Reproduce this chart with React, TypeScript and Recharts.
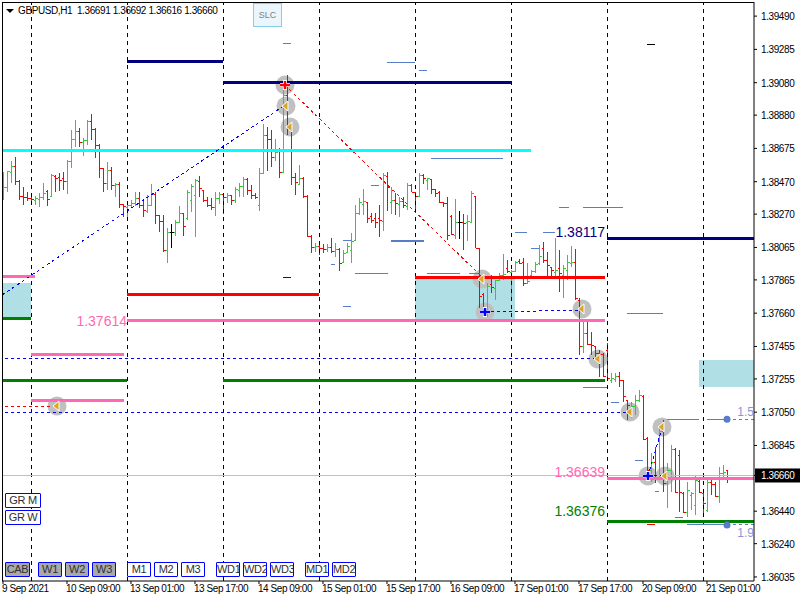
import React from "react";
import {
  ComposedChart,
  Bar,
  XAxis,
  YAxis,
  ReferenceLine,
  ReferenceArea,
  ReferenceDot,
} from "recharts";

// all prices in points (1/100000), bars run from 9 Sep 2021 17:00, one per hour
const highs = [
  138530, 138536, 138597, 138622, 138480, 138437, 138406, 138382, 138382, 138400, 138462, 138419, 138517, 138511, 138523, 138530,
  138603, 138788, 138850, 138801, 138739, 138850, 138887, 138801, 138702, 138554, 138591, 138560, 138462, 138468, 138332, 138338,
  138357, 138406, 138406, 138357, 138388, 138456, 138406, 138265, 138265, 138185, 138209, 138234, 138320, 138277, 138419, 138456,
  138486, 138505, 138419, 138376, 138370, 138406, 138406, 138400, 138400, 138388, 138437, 138462, 138499, 138493, 138449, 138400,
  138554, 138825, 138807, 138788, 138733, 138678, 139035, 139127, 138801, 138523, 138573, 138499, 138388, 138141, 138092, 138105,
  138086, 138086, 138123, 138092, 138062, 138049, 138092, 138154, 138326, 138370, 138425, 138345, 138277, 138277, 138326, 138523,
  138530, 138437, 138400, 138376, 138376, 138462, 138456, 138406, 138523, 138517, 138493, 138486, 138425, 138413, 138345, 138376,
  138265, 138363, 138289, 138271, 138265, 138413, 138382, 138062, 137784, 137846, 137895, 137864, 137907, 138025, 137987, 137926,
  137981, 137993, 138000, 137969, 137926, 137975, 138080, 138098, 138037, 137944, 138123, 138049, 137957, 138019, 138074, 138056,
  137753, 137618, 137618, 137544, 137458, 137433, 137415, 137477, 137292, 137292, 137298, 137248, 137125, 137113, 137156, 137187,
  137156, 136897, 136799, 136836, 136953, 137002, 136737, 136849, 136830, 136817, 136559, 136620, 136559, 136663, 136632, 136553,
  136645, 136632, 136620, 136712, 136725, 136692,
];
const lows = [
  138357, 138406, 138462, 138449, 138357, 138326, 138351, 138338, 138326, 138314, 138357, 138320, 138376, 138406, 138413, 138419,
  138394, 138554, 138684, 138684, 138628, 138696, 138727, 138616, 138493, 138406, 138419, 138419, 138376, 138308, 138252, 138234,
  138314, 138320, 138308, 138252, 138277, 138326, 138209, 138160, 138037, 137969, 138062, 138135, 138216, 138135, 138234, 138283,
  138129, 138376, 138345, 138314, 138295, 138259, 138332, 138271, 138338, 138326, 138338, 138376, 138376, 138388, 138363, 138363,
  138289, 138523, 138536, 138560, 138597, 138493, 138523, 138758, 138449, 138388, 138449, 138370, 138129, 138031, 138037, 138019,
  138031, 138037, 138031, 138006, 137920, 137969, 138037, 137969, 138111, 138265, 138265, 138216, 138216, 138185, 138129, 138166,
  138289, 138271, 138265, 138252, 138308, 138295, 138406, 138283, 138376, 138456, 138419, 138394, 138376, 138338, 138314, 138111,
  138141, 138117, 138117, 138049, 138105, 138222, 138062, 137692, 137692, 137637, 137784, 137741, 137864, 137864, 137907, 137735,
  137914, 137963, 137827, 137846, 137895, 137907, 137957, 137969, 137877, 137877, 137883, 137790, 137753, 137864, 137944, 137741,
  137402, 137415, 137464, 137402, 137371, 137267, 137267, 137261, 137230, 137236, 137205, 137113, 137002, 137014, 137033, 137113,
  136879, 136645, 136620, 136614, 136651, 136559, 136460, 136559, 136553, 136435, 136429, 136404, 136447, 136417, 136553, 136417,
  136435, 136540, 136528, 136491, 136651, 136616,
];
const opens = [
  138388, 138437, 138530, 138566, 138474, 138382, 138376, 138370, 138357, 138363, 138376, 138413, 138382, 138505, 138499, 138493,
  138474, 138597, 138733, 138782, 138714, 138727, 138844, 138794, 138696, 138554, 138462, 138542, 138449, 138456, 138332, 138314,
  138326, 138338, 138370, 138326, 138289, 138326, 138394, 138265, 138228, 138049, 138160, 138160, 138222, 138277, 138246, 138357,
  138388, 138474, 138419, 138357, 138326, 138314, 138370, 138394, 138376, 138388, 138357, 138419, 138443, 138486, 138419, 138388,
  138326, 138523, 138758, 138733, 138622, 138665, 138530, 139004, 138801, 138499, 138456, 138493, 138382, 138135, 138068, 138074,
  138062, 138056, 138068, 138043, 138056, 137975, 138037, 138049, 138111, 138277, 138332, 138345, 138259, 138246, 138246, 138228,
  138505, 138345, 138357, 138332, 138351, 138320, 138449, 138406, 138382, 138511, 138480, 138486, 138425, 138406, 138345, 138338,
  138259, 138141, 138222, 138222, 138222, 138222, 138382, 138062, 137778, 137692, 137840, 137815, 137864, 137895, 137938, 137914,
  137920, 137981, 137975, 137846, 137895, 137920, 137969, 138062, 137987, 137944, 137914, 137938, 137895, 137926, 137969, 137975,
  137741, 137458, 137538, 137470, 137458, 137415, 137408, 137433, 137248, 137255, 137273, 137248, 137125, 137063, 137088, 137125,
  137150, 136891, 136694, 136743, 136663, 136934, 136614, 136694, 136824, 136787, 136553, 136435, 136540, 136478, 136626, 136553,
  136447, 136620, 136608, 136534, 136676, 136691,
];
const closes = [
  138437, 138536, 138566, 138474, 138382, 138376, 138370, 138363, 138370, 138376, 138400, 138363, 138511, 138493, 138480, 138474,
  138597, 138733, 138782, 138714, 138727, 138844, 138794, 138696, 138554, 138462, 138542, 138449, 138456, 138332, 138320, 138326,
  138338, 138370, 138326, 138295, 138326, 138394, 138265, 138228, 138049, 138160, 138160, 138222, 138277, 138197, 138406, 138443,
  138480, 138431, 138357, 138326, 138314, 138370, 138394, 138376, 138388, 138357, 138425, 138443, 138486, 138419, 138388, 138376,
  138523, 138758, 138733, 138622, 138653, 138530, 139004, 138807, 138499, 138468, 138493, 138382, 138135, 138068, 138074, 138062,
  138056, 138068, 138043, 138056, 137969, 138031, 138074, 138105, 138277, 138345, 138351, 138246, 138234, 138222, 138234, 138511,
  138437, 138357, 138338, 138351, 138326, 138449, 138406, 138382, 138511, 138493, 138493, 138425, 138400, 138345, 138338, 138141,
  138148, 138222, 138222, 138216, 138228, 138400, 138062, 137766, 137698, 137827, 137821, 137864, 137895, 137901, 137920, 137920,
  137975, 137969, 137846, 137858, 137920, 137963, 138012, 137987, 137957, 137926, 137926, 137907, 137938, 137975, 137975, 137753,
  137458, 137538, 137470, 137464, 137415, 137408, 137273, 137261, 137261, 137273, 137248, 137150, 137094, 137088, 137125, 137156,
  136885, 136694, 136743, 136663, 136934, 136614, 136694, 136824, 136559, 136559, 136435, 136571, 136553, 136632, 136559, 136491,
  136620, 136608, 136534, 136676, 136682, 136660,
];

const priceTicks = [
  1.3949, 1.39285, 1.3908, 1.3888, 1.38675, 1.3847, 1.3827, 1.38065, 1.37865, 1.3766, 1.37455, 1.37255, 1.3705, 1.36845, 1.3666, 1.3644, 1.3624, 1.36035,
];
const lastPrice = 1.3666;
const timeLabels = [
  "9 Sep 2021", "10 Sep 09:00", "13 Sep 01:00", "13 Sep 17:00", "14 Sep 09:00", "15 Sep 01:00",
  "15 Sep 17:00", "16 Sep 09:00", "17 Sep 01:00", "17 Sep 17:00", "20 Sep 09:00", "21 Sep 01:00",
];
const timeTicks = [0, 16, 32, 48, 64, 80, 96, 112, 128, 144, 160, 176];
const dayStarts = [7, 31, 55, 79, 103, 127, 151, 175];

// [first bar, last bar, price]
const navyLevels = [[31, 55, 1.39213], [55, 127, 1.39078], [151, 188, 1.38117]];
const cyanLevels = [[-1, 132, 1.38665]];
const redLevels = [[31, 79, 1.37772], [103, 150.5, 1.37877]];
const pinkLevels = [[-1, 8, 1.37883], [7, 30.25, 1.37408], [7, 30.25, 1.37125], [31, 150.5, 1.37614], [151, 188, 1.36639]];
const greenLevels = [[-1, 7, 1.3763], [-1, 31, 1.37248], [55, 150.5, 1.37248], [151, 188, 1.36376]];
const thinLevels = [
  [70, 72, 1.39324], [96, 103, 1.39207], [104, 106, 1.39158], [107, 125, 1.3861], [92, 94, 1.38449], [85, 87, 1.38105],
  [128, 131, 1.38154], [132, 134, 1.38056], [139, 141.5, 1.38308], [145, 155, 1.38308], [135, 138, 1.38154], [82, 83, 1.37957],
  [85, 87, 1.37704], [88, 96.25, 1.37907], [106, 114.25, 1.37907], [116.5, 119.25, 1.37907], [121, 144.25, 1.37606], [156, 165, 1.37655],
  [145, 151, 1.37205], [152, 154, 1.37107], [158, 160, 1.36755], [163, 164, 1.36559], [168, 170, 1.36404], [166, 174, 1.37007],
  [176, 181, 1.37007], [171, 181, 1.36355],
];
const wideThinLevels = [[97, 105.25, 1.38105]];
const darkBlueTicks = [[70, 72, 1.37877]];
const blackTicks = [[161, 163, 1.39318]];
const redTicks = [[161, 163, 1.36355]];
const thinDashed = [[181, 188, 1.37007], [181, 188, 1.36355]];
const thinDots = [[181, 1.37007], [181, 1.36355]];
// [end bar, end price, start bar, start price]
const blueDashes = [
  [148.75, 1.37378, -1, 1.37378],
  [156.75, 1.37051, -1, 1.37051],
  [70.5, 1.38942, -0.25, 1.37772],
  [144.75, 1.37679, 120.5, 1.37667],
  [164.75, 1.36953, 161.25, 1.36657],
  [165.5, 1.36657, 161.25, 1.36657],
];
const redDashes = [
  [13.5, 1.37088, -1, 1.37088],
  [120, 1.37877, 70.5, 1.39065],
];
const arrowMarks = [
  [13.5, 1.37088], [70.75, 1.38936], [71.75, 1.38807], [119.75, 1.3787], [144.75, 1.37686],
  [148.75, 1.37378], [156.75, 1.37051], [164.75, 1.36959], [165.5, 1.36657],
];
const redStars = [[70.5, 1.39065]];
const blueStars = [[120.5, 1.37667], [161.25, 1.36657]];
const priceLabels = [
  [31, 1.37614, "1.37614", "#ff69b4", 14],
  [150.5, 1.3816, "1.38117", "#000080", 14],
  [150.5, 1.36681, "1.36639", "#ff69b4", 14],
  [150.5, 1.36444, "1.36376", "#008000", 14],
  [187.75, 1.37051, "1.5", "#8a94dc", 12],
  [187.75, 1.36305, "1.9", "#8a94dc", 12],
];

const buttons: [string, number, number, number, boolean][] = [
  ["GR M", 5, 493, 36, false], ["GR W", 5, 510, 36, false],
  ["CAB", 5, 562, 25, true], ["W1", 38, 562, 24, true], ["W2", 65, 562, 24, true], ["W3", 92, 562, 24, true],
  ["M1", 127, 562, 24, false], ["M2", 154, 562, 24, false], ["M3", 181, 562, 24, false],
  ["WD1", 216, 562, 24, false], ["WD2", 243, 562, 24, false], ["WD3", 270, 562, 24, false],
  ["MD1", 305, 562, 24, false], ["MD2", 332, 562, 24, false],
];

const bars = highs.map((h, i) => ({
  i,
  high: h / 100000,
  low: lows[i] / 100000,
  open: opens[i] / 100000,
  close: closes[i] / 100000,
}));

const FONT = '"Liberation Sans", Arial, sans-serif';

function OhlcBar(props: any) {
  const { x, y, width, height, payload } = props;
  const cx = Math.round(x + width / 2) + 0.5;
  const yOf = (v: number) => Math.round(y + (height * (payload.high - v)) / (payload.high - payload.low)) + 0.5;
  const color = payload.close > payload.open ? "#32cd32" : payload.close < payload.open ? "#ff0000" : "#000000";
  return (
    <g stroke={color} strokeWidth={1} shapeRendering="crispEdges">
      <line x1={cx} x2={cx} y1={y} y2={y + height} />
      <line x1={cx - 2} x2={cx} y1={yOf(payload.open)} y2={yOf(payload.open)} />
      <line x1={cx} x2={cx + 2} y1={yOf(payload.close)} y2={yOf(payload.close)} />
    </g>
  );
}

function PriceTick(props: any) {
  const { x, y, payload } = props;
  const isLast = payload.value === lastPrice;
  return (
    <g>
      {isLast && <rect x={x - 4} y={y - 7} width={45} height={14} fill="#000" />}
      <text x={x + 2} y={y + 4} fontSize={10} letterSpacing={-0.4} fontFamily={FONT} fill={isLast ? "#fff" : "#000"}>
        {payload.value.toFixed(5)}
      </text>
    </g>
  );
}

function TimeTick(props: any) {
  const { x, y, payload } = props;
  return (
    <text x={x - 1} y={y + 6} fontSize={10} letterSpacing={-0.45} fontFamily={FONT} fill="#000">
      {timeLabels[timeTicks.indexOf(payload.value)]}
    </text>
  );
}

function GreyDisc({ cx, cy }: any) {
  return <circle cx={cx} cy={cy} r={9.5} fill="#c0c0c0" />;
}

function ArrowMark({ cx, cy }: any) {
  return (
    <polygon
      points={`${cx - 4},${cy} ${cx + 2},${cy - 5} ${cx + 2},${cy + 5}`}
      fill="#daa520"
      stroke="#fff"
      strokeWidth={1}
    />
  );
}

function StarMark({ cx, cy, color }: any) {
  return (
    <g>
      <path d={`M${cx - 5} ${cy}H${cx + 5}M${cx} ${cy - 5}V${cy + 5}`} stroke="#fff" strokeWidth={4} />
      <path d={`M${cx - 5} ${cy}H${cx + 5}M${cx} ${cy - 4}V${cy + 4}`} stroke={color} strokeWidth={2.5} />
    </g>
  );
}

function levels(rows: number[][], color: string, width: number, name: string, dash?: string) {
  return rows.map(([a, b, p], k) => (
    <ReferenceLine
      key={`${name}${k}`}
      segment={[{ x: a, y: p }, { x: b, y: p }]}
      stroke={color}
      strokeWidth={width}
      strokeDasharray={dash}
      shapeRendering="crispEdges"
      ifOverflow="hidden"
    />
  ));
}

function dashes(rows: number[][], color: string, name: string) {
  return rows.map(([b, p, a0, p0], k) => (
    <ReferenceLine
      key={`${name}${k}`}
      segment={[{ x: a0, y: p0 }, { x: b, y: p }]}
      stroke={color}
      strokeWidth={1}
      strokeDasharray="3 3"
      shapeRendering="crispEdges"
      ifOverflow="hidden"
    />
  ));
}

export default function App() {
  const discs = [...arrowMarks, ...redStars, ...blueStars];
  return (
    <div style={{ position: "absolute", left: 0, top: 0, width: 800, height: 600, background: "#fff", overflow: "hidden" }}>
      <ComposedChart width={800} height={600} data={bars} margin={{ top: 2, right: 0, bottom: 0, left: 2 }}>
        <XAxis
          dataKey="i"
          type="number"
          domain={[-0.25, 187.75]}
          allowDataOverflow
          ticks={timeTicks}
          interval={0}
          tick={<TimeTick />}
          tickLine={{ stroke: "#000" }}
          tickSize={3}
          axisLine={{ stroke: "#000" }}
          height={19}
        />
        <YAxis
          orientation="right"
          type="number"
          domain={[1.3601, 1.39577]}
          allowDataOverflow
          ticks={priceTicks}
          interval={0}
          tick={<PriceTick />}
          tickLine={{ stroke: "#000" }}
          tickSize={3}
          axisLine={{ stroke: "#000" }}
          width={46}
        />
        <ReferenceArea x1={-0.25} x2={7} y1={1.3763} y2={1.37846} fill="#b0e0e6" fillOpacity={1} stroke="none" />
        <ReferenceArea x1={103} x2={128} y1={1.37614} y2={1.37877} fill="#b0e0e6" fillOpacity={1} stroke="none" />
        <ReferenceArea x1={174} x2={187.75} y1={1.37205} y2={1.37371} fill="#b0e0e6" fillOpacity={1} stroke="none" />
        {discs.map(([a, p], k) => (
          <ReferenceDot key={`disc${k}`} x={a} y={p} r={9.5} zIndex={150} shape={(s: any) => <GreyDisc {...s} />} />
        ))}
        <Bar dataKey={(d: any) => [d.low, d.high]} barSize={1} shape={<OhlcBar />} isAnimationActive={false} />
        {dayStarts.map((d) => (
          <ReferenceLine key={d} x={d} stroke="#000" strokeWidth={1} strokeDasharray="4 4" shapeRendering="crispEdges" />
        ))}
        <ReferenceLine y={lastPrice} stroke="#c0c0c0" strokeWidth={1} shapeRendering="crispEdges" />
        {levels(thinLevels, "#5a7dc8", 1, "thin")}
        {levels(wideThinLevels, "#5a7dc8", 2, "wide")}
        {levels(thinDashed, "#5a7dc8", 1, "thind", "3 3")}
        {levels(darkBlueTicks, "#0000ff", 1, "dbt")}
        {levels(blackTicks, "#000000", 1, "bt")}
        {levels(redTicks, "#ff0000", 1, "rt")}
        {levels(cyanLevels, "#00ffff", 3, "cyan")}
        {levels(navyLevels, "#000080", 3, "navy")}
        {levels(redLevels, "#ff0000", 3, "red")}
        {levels(pinkLevels, "#ff69b4", 3, "pink")}
        {levels(greenLevels, "#008000", 3, "green")}
        {dashes(blueDashes, "#0000ff", "bd")}
        {dashes(redDashes, "#ff0000", "rd")}
        {thinDots.map(([a, p], k) => (
          <ReferenceDot key={`td${k}`} x={a} y={p} r={3.5} fill="#5a7dc8" stroke="none" />
        ))}
        {arrowMarks.map(([a, p], k) => (
          <ReferenceDot key={`ar${k}`} x={a} y={p} r={5} shape={(s: any) => <ArrowMark {...s} />} />
        ))}
        {redStars.map(([a, p], k) => (
          <ReferenceDot key={`rs${k}`} x={a} y={p} r={5} shape={(s: any) => <StarMark {...s} color="#ff0000" />} />
        ))}
        {blueStars.map(([a, p], k) => (
          <ReferenceDot key={`bs${k}`} x={a} y={p} r={5} shape={(s: any) => <StarMark {...s} color="#0000ff" />} />
        ))}
        {priceLabels.map(([a, p, text, color, size], k) => (
          <ReferenceDot
            key={`lb${k}`}
            x={a as number}
            y={p as number}
            r={0}
            stroke="none"
            label={{ value: text as string, position: "left", offset: 0, fill: color as string, fontSize: size as number, fontFamily: FONT }}
          />
        ))}
      </ComposedChart>
      <div style={{ position: "absolute", left: 2, top: 2, width: 752, height: 579, borderLeft: "1px solid #000", borderTop: "1px solid #000", boxSizing: "border-box", pointerEvents: "none" }} />
      <div style={{ position: "absolute", left: 6, top: 9, width: 0, height: 0, borderLeft: "4px solid transparent", borderRight: "4px solid transparent", borderTop: "4px solid #000" }} />
      <div style={{ position: "absolute", left: 18, top: 4, font: `10px ${FONT}`, letterSpacing: -0.4, lineHeight: "13px", color: "#000", whiteSpace: "pre" }}>
        GBPUSD,H1  1.36691 1.36692 1.36616 1.36660
      </div>
      <div style={{ position: "absolute", left: 253, top: 3, width: 29, height: 24, boxSizing: "border-box", border: "1px solid #87ceeb", background: "#eaf6fb", color: "#808080", font: `9px ${FONT}`, lineHeight: "22px", textAlign: "center" }}>
        SLC
      </div>
      {buttons.map(([label, x, y, w, on]) => (
        <div
          key={label}
          style={{
            position: "absolute",
            left: x,
            top: y,
            width: w,
            height: 15,
            boxSizing: "border-box",
            border: "1px solid #0000ff",
            borderRadius: 1,
            background: on ? "#a9a9a9" : "#fff",
            color: "#303030",
            font: `11px ${FONT}`,
            letterSpacing: -0.3,
            lineHeight: "13px",
            textAlign: "center",
            whiteSpace: "nowrap",
            overflow: "hidden",
          }}
        >
          {label}
        </div>
      ))}
    </div>
  );
}
